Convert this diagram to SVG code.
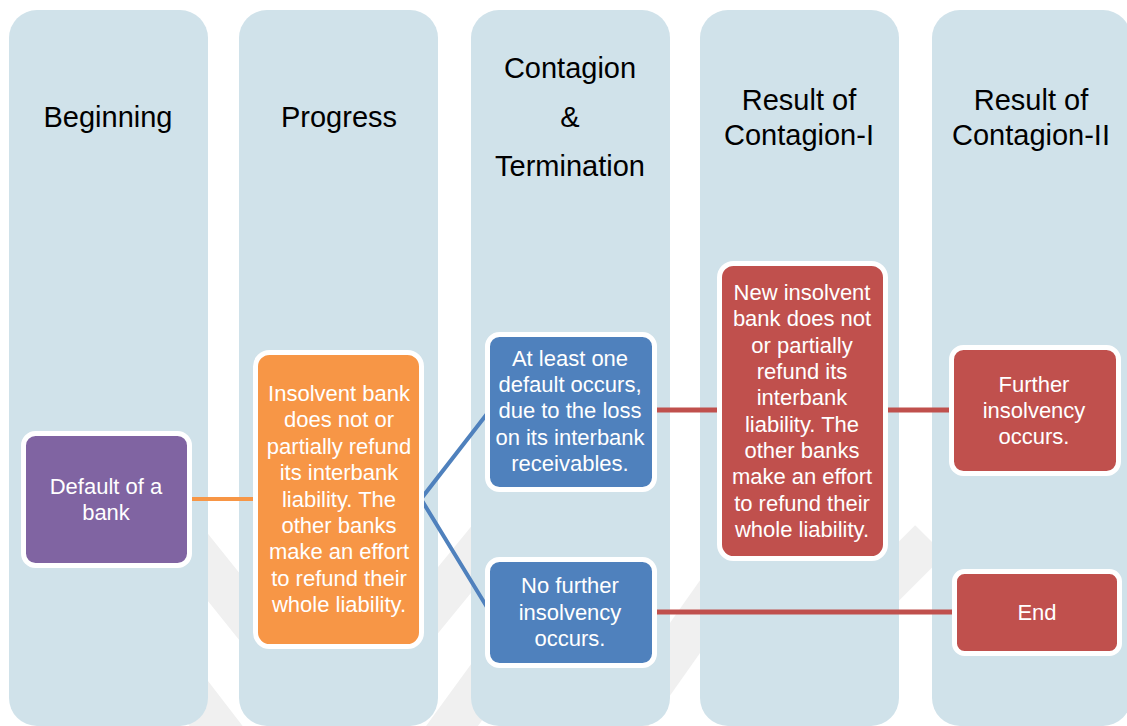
<svg xmlns="http://www.w3.org/2000/svg" width="1127" height="726" viewBox="0 0 1127 726">
  <defs>
    <style>
      .lane { fill: #D0E2EA; }
      .head { font-family: "Liberation Sans", Arial, sans-serif; font-size: 29px; fill: #000; text-anchor: middle; }
      .box { stroke: #FFFFFF; stroke-width: 5; }
      .label { font-family: "Liberation Sans", Arial, sans-serif; font-size: 22px; fill: #FFFFFF; text-anchor: middle; }
      .purple { fill: #8064A2; }
      .orange { fill: #F79646; }
      .blue { fill: #4F81BD; }
      .red { fill: #C0504D; }
      .wm { fill: none; stroke: #F0F0F0; stroke-width: 42; }
      .link { fill: none; stroke-linejoin: miter; }
    </style>
  </defs>

  <rect width="1127" height="726" fill="#FFFFFF"/>

  <!-- faint background mark -->
  <g id="backmark">
    <path class="wm" d="M170 520 L335 726 L520 500"/>
    <path class="wm" d="M150 640 L250 770 M420 770 L500 660"/>
    <path class="wm" d="M620 730 L740 560"/>
    <path class="wm" d="M870 600 L930 540" stroke-width="28"/>
  </g>

  <!-- stage lanes -->
  <g id="lanes">
    <g id="lane-beginning">
      <rect class="lane" x="9" y="10" width="199" height="716" rx="28"/>
      <text class="head" x="108" y="127">Beginning</text>
    </g>
    <g id="lane-progress">
      <rect class="lane" x="239" y="10" width="199" height="716" rx="28"/>
      <text class="head" x="339" y="127">Progress</text>
    </g>
    <g id="lane-contagion">
      <rect class="lane" x="471" y="10" width="199" height="716" rx="28"/>
      <text class="head" x="570" y="78">Contagion</text>
      <text class="head" x="570" y="127">&amp;</text>
      <text class="head" x="570" y="176">Termination</text>
    </g>
    <g id="lane-result1">
      <rect class="lane" x="700" y="10" width="199" height="716" rx="28"/>
      <text class="head" x="799" y="110">Result of</text>
      <text class="head" x="799" y="145">Contagion-I</text>
    </g>
    <g id="lane-result2">
      <rect class="lane" x="932" y="10" width="199" height="716" rx="28"/>
      <text class="head" x="1031" y="110">Result of</text>
      <text class="head" x="1031" y="145">Contagion-II</text>
    </g>
  </g>

  <!-- connectors -->
  <g id="connectors">
    <path class="link" d="M189 499 H256" stroke="#F79646" stroke-width="4"/>
    <path class="link" d="M490 410 L421 499 L490 612" stroke="#4F81BD" stroke-width="4"/>
    <path class="link" d="M654 410 H720" stroke="#C0504D" stroke-width="5"/>
    <path class="link" d="M886 410 H952" stroke="#C0504D" stroke-width="5"/>
    <path class="link" d="M654 612 H955" stroke="#C0504D" stroke-width="5"/>
  </g>

  <g id="node-default">
    <rect class="box purple" x="23.5" y="433.5" width="166" height="132" rx="12"/>
    <text class="label" x="106" y="494">Default of a</text>
    <text class="label" x="106" y="520">bank</text>
  </g>

  <g id="node-insolvent">
    <rect class="box orange" x="255.5" y="352.5" width="166" height="294" rx="14"/>
    <text class="label" x="339" y="401">Insolvent bank</text>
    <text class="label" x="339" y="427.4">does not or</text>
    <text class="label" x="339" y="453.8">partially refund</text>
    <text class="label" x="339" y="480.2">its interbank</text>
    <text class="label" x="339" y="506.6">liability. The</text>
    <text class="label" x="339" y="533">other banks</text>
    <text class="label" x="339" y="559.4">make an effort</text>
    <text class="label" x="339" y="585.8">to refund their</text>
    <text class="label" x="339" y="612.2">whole liability.</text>
  </g>

  <g id="node-default-occurs">
    <rect class="box blue" x="487.5" y="334.5" width="167" height="155" rx="12"/>
    <text class="label" x="570" y="366">At least one</text>
    <text class="label" x="570" y="392">default occurs,</text>
    <text class="label" x="570" y="418">due to the loss</text>
    <text class="label" x="570" y="445">on its interbank</text>
    <text class="label" x="570" y="471">receivables.</text>
  </g>

  <g id="node-no-further">
    <rect class="box blue" x="487.5" y="559.5" width="167" height="106" rx="12"/>
    <text class="label" x="570" y="593">No further</text>
    <text class="label" x="570" y="620">insolvency</text>
    <text class="label" x="570" y="646">occurs.</text>
  </g>

  <g id="node-new-insolvent">
    <rect class="box red" x="719.5" y="263.5" width="166" height="295" rx="14"/>
    <text class="label" x="802" y="300">New insolvent</text>
    <text class="label" x="802" y="326.3">bank does not</text>
    <text class="label" x="802" y="352.7">or partially</text>
    <text class="label" x="802" y="379">refund its</text>
    <text class="label" x="802" y="405.3">interbank</text>
    <text class="label" x="802" y="431.7">liability. The</text>
    <text class="label" x="802" y="458">other banks</text>
    <text class="label" x="802" y="484.3">make an effort</text>
    <text class="label" x="802" y="510.7">to refund their</text>
    <text class="label" x="802" y="537">whole liability.</text>
  </g>

  <g id="node-further">
    <rect class="box red" x="951.5" y="347.5" width="167" height="126" rx="12"/>
    <text class="label" x="1034" y="392">Further</text>
    <text class="label" x="1034" y="418">insolvency</text>
    <text class="label" x="1034" y="444">occurs.</text>
  </g>

  <g id="node-end">
    <rect class="box red" x="954.5" y="571.5" width="165" height="82" rx="10"/>
    <text class="label" x="1037" y="620">End</text>
  </g>
</svg>
